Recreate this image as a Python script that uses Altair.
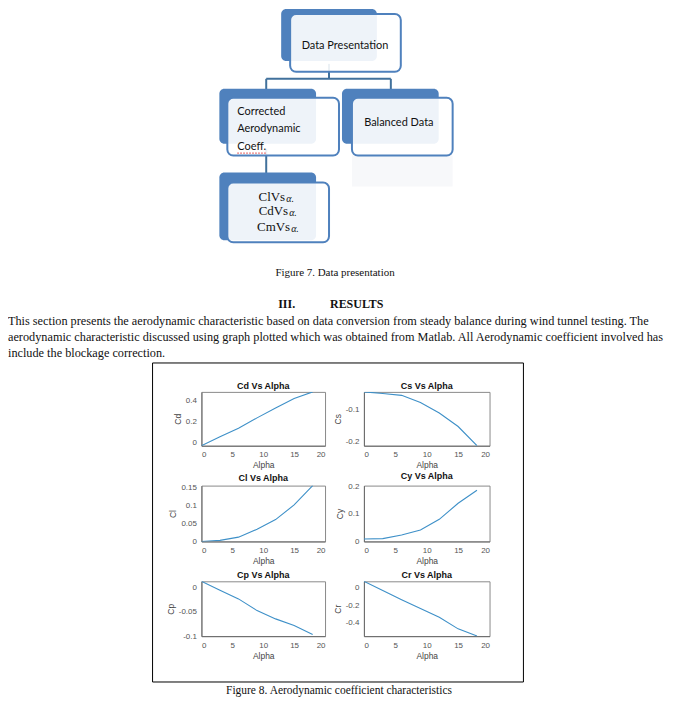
import altair as alt
import pandas as pd

# ---------------- data ----------------
alpha = [0, 3, 6, 9, 12, 15, 18]
cd = [-0.032, 0.055, 0.135, 0.235, 0.33, 0.42, 0.484]
cs = [-0.043, -0.048, -0.054, -0.077, -0.11, -0.153, -0.214]
cl = [0.0, 0.003, 0.012, 0.034, 0.061, 0.102, 0.156]
cy = [0.009, 0.010, 0.023, 0.041, 0.080, 0.138, 0.185]
cp = [0.0128, -0.0057, -0.0234, -0.0475, -0.0645, -0.078, -0.0965]
cr = [0.077, -0.029, -0.135, -0.238, -0.338, -0.473, -0.555]

x_ticks = [0, 5, 10, 15, 20]
cd_ticks = [0, 0.2, 0.4]
cs_ticks = [-0.2, -0.1]
cl_ticks = [0, 0.05, 0.1, 0.15]
cy_ticks = [0, 0.1, 0.2]
cp_ticks = [-0.1, -0.05, 0]
cr_ticks = [-0.4, -0.2, 0]

cd_dom = [-0.032, 0.484]
cs_dom = [-0.214, -0.043]
cl_dom = [0, 0.156]
cy_dom = [0, 0.202]
cp_dom = [-0.1, 0.0128]
cr_dom = [-0.557, 0.077]

# flowchart (diagram layout)
box_label = ["Data Presentation", "Corrected Aerodynamic Coeff.", "Balanced Data", "Cl Vs"]
back_x = [274, 212, 335, 212]
back_x2 = [370, 309, 432, 309]
back_y = [0, 80, 80, 164]
back_y2 = [52, 135, 135, 232]
front_x = [283, 220, 345, 220]
front_x2 = [394, 332, 446, 322]
front_y = [5, 89, 89, 174]
front_y2 = [63, 147, 147, 234]

conn_x = [322, 259, 259, 384, 259]
conn_x2 = [322, 384, 259, 384, 259]
conn_y = [55, 70, 70, 70, 140]
conn_y2 = [70, 70, 95, 95, 170]

box_texts = ["Data Presentation", "Balanced Data"]
box_text_x = [338, 392]
box_text_y = [37, 114]
left_texts = ["Corrected", "Aerodynamic", "Coeff."]
left_text_x = [230, 230, 230]
left_text_y = [103, 120.5, 138]

serif_main = ["ClVs", "CdVs", "CmVs"]
serif_main_x = [278, 281, 283]
serif_y = [189, 203, 219]
serif_sub = ["α.", "α.", "α."]

para_lines = [
    "This section presents the aerodynamic characteristic based on data conversion from steady balance during wind tunnel testing. The",
    "aerodynamic characteristic discussed using graph plotted which was obtained from Matlab. All Aerodynamic coefficient involved has",
    "include the blockage correction.",
]
para_y = [313, 329, 345]

SW, H = 155, 344   # top cell: occupies the first grid column, content overflows to the right
xs = alt.Scale(domain=[0, SW], nice=False, zero=False)
ys = alt.Scale(domain=[0, H], nice=False, zero=False, reverse=True)

BLUE = "#4F81BD"
LINE = "#3E90C8"


def XY(xf="x", yf="y"):
    return dict(x=alt.X(f"{xf}:Q", scale=xs, axis=None), y=alt.Y(f"{yf}:Q", scale=ys, axis=None))


conn_df = pd.DataFrame({"x": conn_x, "x2": conn_x2, "y": conn_y, "y2": conn_y2})
connectors = alt.Chart(conn_df).mark_rule(color="#41719C", strokeWidth=2).encode(
    **XY(), x2="x2:Q", y2="y2:Q")

back_df = pd.DataFrame({"x": back_x, "x2": back_x2, "y": back_y, "y2": back_y2, "label": box_label})
backs = alt.Chart(back_df).mark_rect(fill=BLUE, cornerRadius=5).encode(**XY(), x2="x2:Q", y2="y2:Q")

faint = alt.Chart(pd.DataFrame({"x": [345], "x2": [446], "y": [147], "y2": [178]})).mark_rect(
    fill="#F7F8FA").encode(**XY(), x2="x2:Q", y2="y2:Q")

front_df = pd.DataFrame({"x": front_x, "x2": front_x2, "y": front_y, "y2": front_y2, "label": box_label})
fronts = alt.Chart(front_df).mark_rect(
    fill="white", fillOpacity=0.9, stroke=BLUE, strokeWidth=2, cornerRadius=6
).encode(**XY(), x2="x2:Q", y2="y2:Q")

t_center = alt.Chart(pd.DataFrame({"x": box_text_x, "y": box_text_y, "t": box_texts})).mark_text(
    font="Lato", fontSize=11, color="#111", align="center", baseline="middle").encode(**XY(), text="t:N")
t_left = alt.Chart(pd.DataFrame({"x": left_text_x, "y": left_text_y, "t": left_texts})).mark_text(
    font="Lato", fontSize=11, color="#111", align="left", baseline="middle").encode(**XY(), text="t:N")
squiggle = alt.Chart(pd.DataFrame({"x": [230], "x2": [260], "y": [144.5], "y2": [144.5]})).mark_rule(
    color="#E03030", strokeWidth=1, strokeDash=[1.5, 1.5]).encode(**XY(), x2="x2:Q", y2="y2:Q")

t_serif = alt.Chart(pd.DataFrame({"x": serif_main_x, "y": serif_y, "t": serif_main})).mark_text(
    font="Liberation Serif", fontSize=13, color="#111", align="right", baseline="middle").encode(**XY(), text="t:N")
t_serif_sub = alt.Chart(pd.DataFrame({"x": serif_main_x, "y": serif_y, "t": serif_sub})).mark_text(
    font="Liberation Serif", fontSize=10, fontStyle="italic", color="#111", align="left", baseline="middle",
    dx=1, dy=2).encode(**XY(), text="t:N")

cap7 = alt.Chart(pd.DataFrame({"x": [328], "y": [265], "t": ["Figure 7. Data presentation"]})).mark_text(
    font="Liberation Serif", fontSize=11, color="#111", align="center", baseline="middle").encode(**XY(), text="t:N")
head = alt.Chart(pd.DataFrame({"x": [271, 323], "y": [296, 296], "t": ["III.", "RESULTS"]})).mark_text(
    font="Liberation Serif", fontSize=12, fontWeight="bold", color="#111", align="left", baseline="middle"
).encode(**XY(), text="t:N")
para = alt.Chart(pd.DataFrame({"x": [0, 0, 0], "y": para_y, "t": para_lines})).mark_text(
    font="Liberation Serif", fontSize=12.3, color="#111", align="left", baseline="middle").encode(**XY(), text="t:N")

border = alt.Chart(pd.DataFrame({"x": [145], "x2": [517], "y": [355], "y2": [675]})).mark_rect(
    fill=None, stroke="black", strokeWidth=1).encode(**XY(), x2="x2:Q", y2="y2:Q")
cap8 = alt.Chart(pd.DataFrame({"x": [332], "y": [684], "t": ["Figure 8. Aerodynamic coefficient characteristics"]})).mark_text(
    font="Liberation Serif", fontSize=11.5, color="#111", align="center", baseline="middle").encode(**XY(), text="t:N")

top = alt.layer(
    connectors, backs, faint, fronts, t_center, t_left, squiggle, t_serif, t_serif_sub,
    cap7, head, para, border, cap8
).properties(width=SW, height=H)


def panel(name, vals, dom, ticks, w, h):
    df = pd.DataFrame({"Alpha": alpha, name: vals})
    return alt.Chart(
        df,
        title=alt.Title(f"{name} Vs Alpha", fontSize=9, fontWeight="bold", font="Liberation Sans",
                        color="#111", offset=1),
    ).mark_line(color=LINE, strokeWidth=1.1, clip=True).encode(
        x=alt.X("Alpha:Q", scale=alt.Scale(domain=[0, 20], nice=False, zero=False),
                axis=alt.Axis(values=x_ticks, title="Alpha", labelPadding=5, titlePadding=2)),
        y=alt.Y(f"{name}:Q", scale=alt.Scale(domain=dom, nice=False, zero=False),
                axis=alt.Axis(values=ticks, labelExpr="toString(datum.value)", title=name,
                              labelPadding=5, titlePadding=3)),
    ).properties(width=w, height=h, view=alt.ViewBackground(stroke="#8a8a8a", strokeWidth=1))


def spacer(w, h):
    return alt.Chart(pd.DataFrame({"v": [0]})).mark_point(opacity=0, size=1).encode(
        x=alt.value(1), y=alt.value(1)).properties(width=w, height=h)


chart = alt.concat(
    top, spacer(124, H), spacer(126, H),
    spacer(SW, 54), panel("Cd", cd, cd_dom, cd_ticks, 124, 54), panel("Cs", cs, cs_dom, cs_ticks, 126, 54),
    spacer(SW, 56), panel("Cl", cl, cl_dom, cl_ticks, 124, 56), panel("Cy", cy, cy_dom, cy_ticks, 126, 56),
    spacer(SW, 55), panel("Cp", cp, cp_dom, cp_ticks, 124, 55), panel("Cr", cr, cr_dom, cr_ticks, 126, 55),
    columns=3, spacing=alt.RowColnumber(row=40, column=39), bounds="flush",
).properties(
    padding=0, background="white"
).configure_view(stroke=None).configure_axis(
    grid=False, ticks=False, domain=True, domainColor="#6a6a6a", domainWidth=1,
    labelFont="Liberation Sans", labelFontSize=8, labelColor="#555",
    titleFont="Liberation Sans", titleFontSize=8.5, titleFontWeight="normal", titleColor="#444",
)

chart.save("out.html", embed_options={"renderer": "svg", "actions": False})
